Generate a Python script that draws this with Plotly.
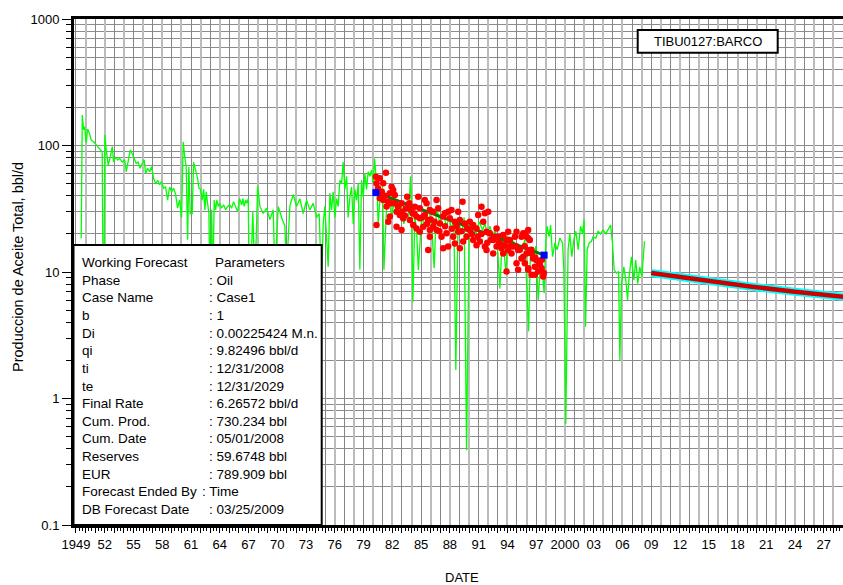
import pandas as pd
import plotly.graph_objects as go

# ---------------- data (decimal years, bbl/d) ----------------
GREEN_T = [1949.55, 1949.66, 1949.80, 1949.91, 1950.07, 1950.22, 1950.36, 1950.60, 1950.85, 1951.12,
           1951.47, 1951.74, 1951.89, 1952.02, 1952.16, 1952.37, 1952.58, 1952.79, 1952.93, 1953.14,
           1953.35, 1953.56, 1953.83, 1954.08, 1954.25, 1954.45, 1954.66, 1954.87, 1955.08, 1955.29,
           1955.50, 1955.70, 1955.91, 1956.12, 1956.27, 1956.48, 1956.69, 1956.89, 1957.10, 1957.31,
           1957.55, 1957.73, 1957.94, 1958.14, 1958.35, 1958.56, 1958.77, 1958.98, 1959.19, 1959.40,
           1959.60, 1959.81, 1960.02, 1960.19, 1960.37, 1960.50, 1960.65, 1960.78, 1960.92, 1961.13,
           1961.27, 1961.48, 1961.69, 1961.83, 1962.00, 1962.17, 1962.32, 1962.45, 1962.59, 1962.73,
           1962.87, 1963.00, 1963.15, 1963.29, 1963.42, 1963.57, 1963.70, 1963.84, 1963.98, 1964.19,
           1964.40, 1964.61, 1964.82, 1965.03, 1965.24, 1965.44, 1965.65, 1965.86, 1966.07, 1966.28,
           1966.41, 1966.55, 1966.70, 1966.83, 1966.97, 1967.11, 1967.45, 1967.67, 1967.95, 1968.19,
           1968.53, 1968.89, 1969.23, 1969.57, 1969.75, 1970.10, 1970.45, 1970.79, 1970.97, 1971.31,
           1971.66, 1972.01, 1972.36, 1972.70, 1973.06, 1973.40, 1973.74, 1974.10, 1974.37, 1974.60,
           1974.79, 1974.96, 1975.31, 1975.49, 1975.66, 1975.83, 1976.01, 1976.18, 1976.35, 1976.53,
           1976.71, 1976.87, 1977.05, 1977.23, 1977.39, 1977.57, 1977.75, 1977.92, 1978.09, 1978.27,
           1978.44, 1978.61, 1978.79, 1978.96, 1979.14, 1979.31, 1979.48, 1979.66, 1979.83, 1980.00,
           1980.15, 1980.28, 1980.42, 1980.52, 1980.70, 1980.98, 1981.12, 1981.40, 1981.67, 1981.92,
           1982.16, 1982.44, 1982.71, 1982.96, 1983.20, 1983.48, 1983.69, 1983.90, 1984.00, 1984.14,
           1984.35, 1984.53, 1984.71, 1985.05, 1985.39, 1985.74, 1986.09, 1986.36, 1986.61, 1986.96,
           1987.30, 1987.65, 1987.93, 1988.18, 1988.42, 1988.62, 1988.86, 1989.22, 1989.49, 1989.74,
           1990.01, 1990.37, 1990.71, 1991.05, 1991.41, 1991.65, 1991.93, 1992.17, 1992.45, 1992.72,
           1992.93, 1993.21, 1993.49, 1993.84, 1994.08, 1994.43, 1994.78, 1995.12, 1995.48, 1995.82,
           1996.21, 1996.41, 1996.69, 1996.97, 1997.21, 1997.46, 1997.66, 1997.83, 1998.01, 1998.14,
           1998.35, 1998.50, 1998.71, 1998.95, 1999.19, 1999.47, 1999.75, 1999.89, 2000.09, 2000.33,
           2000.51, 2000.72, 2000.93, 2001.14, 2001.38, 2001.63, 2001.84, 2002.00, 2002.15, 2002.32,
           2002.53, 2002.77, 2002.94, 2003.22, 2003.46, 2003.71, 2003.98, 2004.27, 2004.51, 2004.76,
           2004.96, 2005.13, 2005.38, 2005.59, 2005.73, 2005.90, 2006.14, 2006.35, 2006.53, 2006.70,
           2006.94, 2007.19, 2007.39, 2007.60, 2007.81, 2008.02, 2008.30]
GREEN_Q = [18.5, 174, 133, 141, 105, 135, 128, 110, 107, 101,
           95, 89, 2, 121, 92, 70, 81, 98, 74, 81,
           77, 79, 74, 77, 62, 77, 92, 86, 79, 72,
           74, 66, 72, 77, 60, 66, 62, 68, 55, 50,
           53, 49, 52, 46, 47, 37, 47, 43, 46, 41,
           32, 37, 27, 107, 79, 68, 18, 68, 29, 29,
           74, 64, 55, 46, 45, 37, 45, 31, 43, 35,
           29, 5, 31, 8, 37, 31, 37, 33, 35, 32,
           34, 31, 33, 34, 32, 36, 33, 30, 38, 34,
           38, 33, 37, 35, 38, 5, 30, 8, 48, 33,
           29, 32, 26, 31, 10, 33, 27, 23, 10, 33,
           41, 33, 38, 29, 37, 31, 35, 27, 29, 8,
           24, 33, 11, 42, 31, 43, 27, 38, 33, 53,
           50, 74, 45, 57, 27, 39, 47, 24, 45, 37,
           50, 10.4, 53, 39, 60, 45, 62, 57, 64, 50,
           79, 53, 42, 24, 37, 47, 10.4, 33, 39, 27,
           35, 30, 27, 33, 24, 29, 27, 57, 33, 5.8,
           27, 21.5, 10.4, 27, 23, 33, 24, 10.7, 33, 24,
           29, 23, 27, 21.5, 26, 1.68, 26, 20, 27, 0.39,
           23, 24, 20, 25, 21.5, 24, 20, 23, 19, 21.5,
           18, 7.4, 20, 9.8, 19, 18, 17, 16, 15, 18,
           3.4, 15, 12.4, 16, 6.0, 11.7, 9.8, 6.8, 18, 23,
           19, 23.5, 13.2, 17, 15, 18.5, 17, 10.4, 0.63, 15,
           20, 13.2, 18, 21, 15, 23, 20, 26, 3.7, 15,
           17, 17.5, 19, 18.5, 21, 20, 21.5, 20, 22, 23.5,
           17, 10.4, 9.8, 10.1, 2.0, 8.1, 11, 8.6, 6.0, 9.2,
           13.2, 8.6, 12.4, 8.1, 11, 9.2, 17.5]

RED_T = [1980.28, 1980.70, 1981.33, 1980.35, 1981.05, 1981.92, 1982.09, 1981.74, 1982.26, 1980.70,
         1981.05, 1981.57, 1982.26, 1982.96, 1983.55, 1983.76, 1983.41, 1984.70, 1985.39, 1985.57,
         1986.61, 1984.35, 1984.87, 1985.91, 1986.26, 1986.78, 1980.35, 1981.57, 1981.74, 1982.44,
         1982.78, 1983.13, 1983.83, 1984.11, 1984.52, 1984.87, 1985.39, 1985.74, 1982.44, 1982.96,
         1984.18, 1984.52, 1984.87, 1985.22, 1985.91, 1986.26, 1986.96, 1987.30, 1987.48, 1987.82,
         1988.17, 1988.87, 1989.32, 1991.30, 1992.00, 1990.95, 1991.65, 1988.00, 1988.52, 1989.04,
         1989.56, 1990.08, 1990.43, 1990.78, 1991.48, 1991.82, 1992.17, 1992.87, 1993.04, 1993.56,
         1994.08, 1994.26, 1994.78, 1994.95, 1995.47, 1995.82, 1996.17, 1990.08, 1988.87, 1988.35,
         1987.65, 1987.13, 1986.61, 1985.91, 1985.74, 1987.30, 1987.82, 1988.52, 1989.04, 1989.39,
         1989.74, 1990.43, 1990.78, 1991.13, 1991.65, 1991.82, 1992.52, 1992.87, 1993.21, 1993.39,
         1993.73, 1994.08, 1994.60, 1995.12, 1995.65, 1995.99, 1996.34, 1992.52, 1993.56, 1994.43,
         1993.91, 1995.12, 1994.95, 1995.82, 1996.17, 1995.47, 1996.34, 1996.52, 1996.69, 1996.86,
         1997.04, 1997.21, 1997.39, 1997.56, 1997.73, 1997.80, 1996.00, 1996.17, 1995.65, 1996.17,
         1996.52, 1996.86,
         1980.50, 1980.90, 1981.20, 1981.40, 1981.90, 1982.60, 1983.00, 1983.30, 1983.90, 1984.30,
         1985.10, 1985.60, 1986.00, 1986.40, 1986.90, 1987.50, 1988.20, 1988.70, 1989.20, 1989.80,
         1990.30, 1990.90, 1991.30, 1991.90, 1992.30, 1992.70, 1993.10, 1993.90, 1994.30, 1994.90,
         1995.30, 1995.80, 1996.50, 1996.90, 1997.30, 1997.60]
RED_Q = [56.7, 55.0, 61.0, 50.2, 50.2, 47.3, 44.5, 41.9, 40.6, 38.2,
         37.1, 36.0, 34.9, 34.9, 39.4, 34.9, 31.9, 39.4, 37.1, 34.9,
         37.1, 32.8, 31.9, 30.9, 30.0, 31.9, 23.5, 25.0, 27.4, 30.0,
         28.2, 26.6, 25.8, 29.1, 27.4, 26.6, 28.2, 25.8, 22.8, 21.5,
         23.5, 22.1, 20.8, 22.8, 21.5, 22.8, 24.2, 27.4, 29.1, 30.0,
         30.9, 30.0, 36.0, 32.8, 30.0, 28.2, 29.1, 26.6, 25.0, 25.8,
         24.2, 25.0, 23.5, 22.1, 25.0, 20.8, 20.2, 22.1, 19.0, 19.6,
         20.8, 17.9, 19.0, 20.8, 19.0, 20.2, 18.5, 21.5, 20.8, 19.0,
         20.2, 19.0, 21.5, 19.0, 14.9, 15.4, 15.9, 16.8, 15.4, 17.4,
         19.0, 17.9, 16.3, 17.4, 15.9, 14.9, 17.9, 15.9, 16.8, 15.4,
         16.3, 14.9, 15.9, 14.9, 13.2, 14.0, 14.9, 14.0, 14.0, 14.0,
         10.1, 10.4, 11.7, 11.7, 10.7, 12.8, 17.9, 14.0, 12.8, 11.0,
         12.4, 10.1, 11.4, 10.7, 9.2, 9.8, 19.0, 21.5, 20.2, 10.4,
         9.5, 9.5,
         46, 43, 40, 33, 35, 33, 30, 28, 31, 29,
         27, 24, 26, 25, 21, 23, 22, 23, 21, 22,
         20, 19, 20, 17, 18, 19, 17, 18, 16, 16,
         15, 16, 15, 13, 12, 12.5]

FIT_T = [1980.28, 1997.83]
FIT_Q = [42.4, 13.6]

FC_T = [2008.99, 2014.0, 2019.5, 2024.0, 2029.99]
FC_Q = [9.825, 8.66, 7.65, 6.99, 6.266]

LABEL_YEARS = list(range(1949, 2028, 3))
LABEL_TEXT = ["1949", "52", "55", "58", "61", "64", "67", "70", "73", "76", "79", "82", "85",
              "88", "91", "94", "97", "2000", "03", "06", "09", "12", "15", "18", "21", "24", "27"]

Y_TICKS = [0.1, 1, 10, 100, 1000]
Y_TEXT = ["0.1", "1", "10", "100", "1000"]

BOX_LABELS = ["Working Forecast", "Phase", "Case Name", "b", "Di", "qi", "ti", "te", "Final Rate",
              "Cum. Prod.", "Cum. Date", "Reserves", "EUR", "Forecast Ended By", "DB Forecast Date"]
BOX_VALUES = ["Parameters", ": Oil", ": Case1", ": 1", ": 0.00225424 M.n.", ": 9.82496 bbl/d",
              ": 12/31/2008", ": 12/31/2029", ": 6.26572 bbl/d", ": 730.234 bbl", ": 05/01/2008",
              ": 59.6748 bbl", ": 789.909 bbl", ": Time", ": 03/25/2009"]
WELL = "TIBU0127:BARCO"


def yd(y):
    base = pd.Timestamp(year=int(y), month=1, day=1)
    return base + pd.Timedelta(days=(y - int(y)) * 365.25)


def ds(lst):
    return [yd(v) for v in lst]


FONT = "Liberation Sans, Arial, sans-serif"
# plot area in page pixels
PX0, PX1, PY0, PY1 = 74, 843, 19, 525
W, H = 843, 585
L, T = PX0, PY0
R = W - PX1
B = H - PY1
PW, PH = PX1 - PX0, PY1 - PY0


def px(x):
    return (x - PX0) / PW


def py(y):
    return (PY1 - y) / PH


fig = go.Figure()
fig.add_trace(go.Scatter(x=ds(GREEN_T), y=GREEN_Q, mode="lines",
                         line=dict(color="#00ff00", width=1.3), hoverinfo="skip"))
fig.add_trace(go.Scatter(x=ds(FIT_T), y=FIT_Q, mode="lines",
                         line=dict(color="#007a00", width=3), hoverinfo="skip"))
fig.add_trace(go.Scatter(x=ds(RED_T), y=RED_Q, mode="markers",
                         marker=dict(color="#ff0000", size=6.5, line=dict(width=0)), hoverinfo="skip"))
fig.add_trace(go.Scatter(x=ds(FIT_T), y=FIT_Q, mode="markers",
                         marker=dict(color="#0000ff", size=7, symbol="square"), hoverinfo="skip"))
fig.add_trace(go.Scatter(x=ds(FC_T), y=FC_Q, mode="lines",
                         line=dict(color="#00ffff", width=8), hoverinfo="skip"))
fig.add_trace(go.Scatter(x=ds(FC_T), y=FC_Q, mode="lines",
                         line=dict(color="#cc0000", width=4.5), hoverinfo="skip"))
# helper trace for the overlay grid axis
fig.add_trace(go.Scatter(x=[yd(1960)], y=[None], xaxis="x2", mode="lines", hoverinfo="skip"))

all_years = list(range(1949, 2030))
tick_vals = [yd(y) for y in all_years]
tick_txt = [LABEL_TEXT[LABEL_YEARS.index(y)] if y in LABEL_YEARS else "" for y in all_years]
even_years = [yd(y) for y in all_years if y % 2 == 0]

xr = [yd(1948.8), yd(2029.0)]

minor_y = [m * 10 ** e for e in range(-1, 3) for m in range(2, 10)]

fig.update_layout(
    width=W, height=H, margin=dict(l=L, r=R, t=T, b=B, pad=0),
    paper_bgcolor="white", plot_bgcolor="white", showlegend=False,
    font=dict(family=FONT, size=13, color="black"),
    xaxis=dict(type="date", range=xr, tickmode="array", tickvals=tick_vals, ticktext=tick_txt,
               showgrid=True, gridcolor="#868686", gridwidth=1,
               ticks="outside", ticklen=5, tickwidth=1, tickcolor="black",
               showline=True, linecolor="black", linewidth=3, mirror=True,
               tickfont=dict(family=FONT, size=13),
               minor=dict(tick0=yd(1949), dtick="M4", ticks="outside", ticklen=3,
                          tickcolor="black", showgrid=False),
               zeroline=False),
    xaxis2=dict(type="date", range=xr, overlaying="x", anchor="y", side="bottom",
                tickmode="array", tickvals=even_years, showticklabels=False, ticks="",
                showgrid=True, gridcolor="#bcbcbc", gridwidth=2, showline=False, zeroline=False),
    yaxis=dict(type="log", range=[-1, 3], tickmode="array", tickvals=Y_TICKS, ticktext=Y_TEXT,
               showgrid=True, gridcolor="#8c8c8c", gridwidth=1.2,
               ticks="outside", ticklen=9, tickcolor="black",
               showline=True, linecolor="black", linewidth=3, mirror=False,
               tickfont=dict(family=FONT, size=13),
               minor=dict(tickvals=minor_y, ticks="outside", ticklen=5, tickcolor="black",
                          showgrid=True, gridcolor="#8c8c8c", gridwidth=1.2),
               zeroline=False),
)

shapes = [
    dict(type="rect", xref="paper", yref="paper", x0=px(73.5), x1=px(321.7), y0=py(525), y1=py(245),
         line=dict(color="black", width=2), fillcolor="white", layer="above"),
    dict(type="rect", xref="paper", yref="paper", x0=px(637.7), x1=px(777.7), y0=py(52.7), y1=py(30),
         line=dict(color="black", width=2), fillcolor="white", layer="above"),
]
fig.update_layout(shapes=shapes)

ann = []
for i, (lab, val) in enumerate(zip(BOX_LABELS, BOX_VALUES)):
    yc = 262.7 + 17.62 * i
    ann.append(dict(xref="paper", yref="paper", x=px(80), y=py(yc), text=lab, showarrow=False,
                    xanchor="left", yanchor="middle", font=dict(family=FONT, size=13.5)))
    vx = 213 if i == 0 else (200 if lab == "Forecast Ended By" else 206.5)
    ann.append(dict(xref="paper", yref="paper", x=px(vx), y=py(yc), text=val, showarrow=False,
                    xanchor="left", yanchor="middle", font=dict(family=FONT, size=13.5)))
ann.append(dict(xref="paper", yref="paper", x=px(707.7), y=py(41.3), text=WELL, showarrow=False,
                xanchor="center", yanchor="middle", font=dict(family=FONT, size=13)))
ann.append(dict(xref="paper", yref="paper", x=px(18), y=py(267),
                text="Produccion de Aceite Total, bbl/d", textangle=-90, showarrow=False,
                xanchor="center", yanchor="middle", font=dict(family=FONT, size=14.5)))
ann.append(dict(xref="paper", yref="paper", x=px(462), y=py(577), text="DATE", showarrow=False,
                xanchor="center", yanchor="middle", font=dict(family=FONT, size=13)))
fig.update_layout(annotations=ann)

fig.write_html("out.html", config={"displayModeBar": False},
               post_script="document.body.style.margin='0';document.body.style.overflow='hidden';")
